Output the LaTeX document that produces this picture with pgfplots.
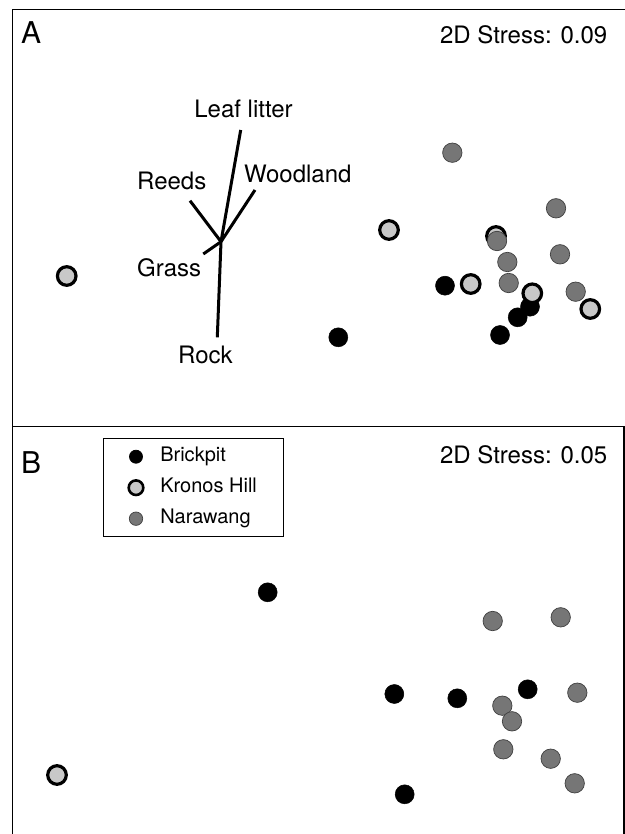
\documentclass[border=0pt]{standalone}
\usepackage{pgfplots}
\pgfplotsset{compat=1.18}
\usepackage{fontspec}
\setmainfont{TeX Gyre Heros}
\definecolor{kronos}{RGB}{200,200,200}
\definecolor{nara}{RGB}{118,118,118}
\pgfplotsset{
  panel/.style={scale only axis, xtick=\empty, ytick=\empty, y dir=reverse,
    axis line style={line width=1.8bp}, clip=false},
  brick/.style={only marks, mark=*, mark size=9.5bp, mark options={fill=black, draw=black, line width=0.5bp}},
  kron/.style={only marks, mark=*, mark size=9.3bp, mark options={fill=kronos, draw=black, line width=3.2bp}},
  narw/.style={only marks, mark=*, mark size=9.7bp, mark options={fill=nara, draw=black!75, line width=0.7bp}},
  vec/.style={no marks, black, line width=3bp},
}
\newcommand{\lab}{\fontsize{24bp}{28bp}\selectfont}
\begin{document}
\begin{tikzpicture}
\useasboundingbox (0,0) rectangle (625bp,834bp);
\clip (0,0) rectangle (625bp,834bp);
% Panel A
\begin{axis}[panel, at={(12.5bp,824.5bp)}, anchor=north west,
  width=614bp, height=417bp, xmin=12.5, xmax=626.5, ymin=9.5, ymax=426.5]
\addplot[vec] coordinates {(221,241.7) (240.7,130)};
\addplot[vec] coordinates {(221,241.7) (255,190)};
\addplot[vec] coordinates {(221,241.7) (190,200.7)};
\addplot[vec] coordinates {(221,241.7) (203.3,254)};
\addplot[vec] coordinates {(221,241.7) (217.3,337.3)};
\addplot[brick] coordinates {(445,285.7) (530,306.7) (517.7,317.3) (500,335) (338.3,337.3)};
\addplot[kron] coordinates {(66.7,276) (389,230) (496,236) (470.7,284) (532.3,293.3) (590.3,309)};
\addplot[narw] coordinates {(452.3,152.7) (556,208.3) (497,241) (507.3,262) (560,254.3) (508.7,283) (575.7,291.7)};
\node[anchor=base west, inner sep=0, font=\fontsize{30bp}{34bp}\selectfont] at (axis cs:21,44) {A};
\node[anchor=base east, inner sep=0, font=\lab] at (axis cs:607.5,43.3) {2D Stress: 0.09};
\node[anchor=base, inner sep=0, font=\lab] at (axis cs:243.5,117.3) {Leaf litter};
\node[anchor=base west, inner sep=0, font=\lab] at (axis cs:244,182.3) {Woodland};
\node[anchor=base west, inner sep=0, font=\lab] at (axis cs:137,189.3) {Reeds};
\node[anchor=base west, inner sep=0, font=\lab] at (axis cs:137,276.7) {Grass};
\node[anchor=base west, inner sep=0, font=\lab] at (axis cs:178,363.3) {Rock};
\end{axis}
% Panel B
\begin{axis}[panel, at={(12.5bp,407.5bp)}, anchor=north west,
  width=611.5bp, height=423.5bp, xmin=12.5, xmax=624, ymin=426.5, ymax=850,
  legend cell align=left,
  legend style={at={(axis cs:103.3,438.3)}, anchor=north west, draw=black, line width=0.8bp,
    font=\fontsize{20bp}{23bp}\selectfont, inner xsep=25bp, inner ysep=7bp, row sep=9bp, column sep=15bp,
    nodes={inner sep=2bp, text height=14bp, text depth=4bp}}]
\addlegendimage{only marks, mark=*, mark size=6.5bp, mark options={fill=black, draw=black}}
\addlegendentry{Brickpit}
\addlegendimage{only marks, mark=*, mark size=7.3bp, mark options={fill=kronos, draw=black, line width=2.6bp}}
\addlegendentry{Kronos Hill}
\addlegendimage{only marks, mark=*, mark size=6.7bp, mark options={fill=nara, draw=black!75, line width=0.7bp}}
\addlegendentry{Narawang}
\addplot[brick, forget plot] coordinates {(267.7,592.3) (394.3,694) (457.3,698.3) (527.7,689.3) (404.7,794.3)};
\addplot[kron, forget plot] coordinates {(57,775)};
\addplot[narw, forget plot] coordinates {(492.7,621) (560.7,617.3) (577.3,692.7) (502.3,705.7) (512,721.3) (503.3,749.3) (550.7,758.7) (574.7,783.3)};
\node[anchor=base west, inner sep=0, font=\fontsize{30bp}{34bp}\selectfont] at (axis cs:21,473) {B};
\node[anchor=base east, inner sep=0, font=\lab] at (axis cs:607.5,463) {2D Stress: 0.05};
\end{axis}
\end{tikzpicture}
\end{document}
